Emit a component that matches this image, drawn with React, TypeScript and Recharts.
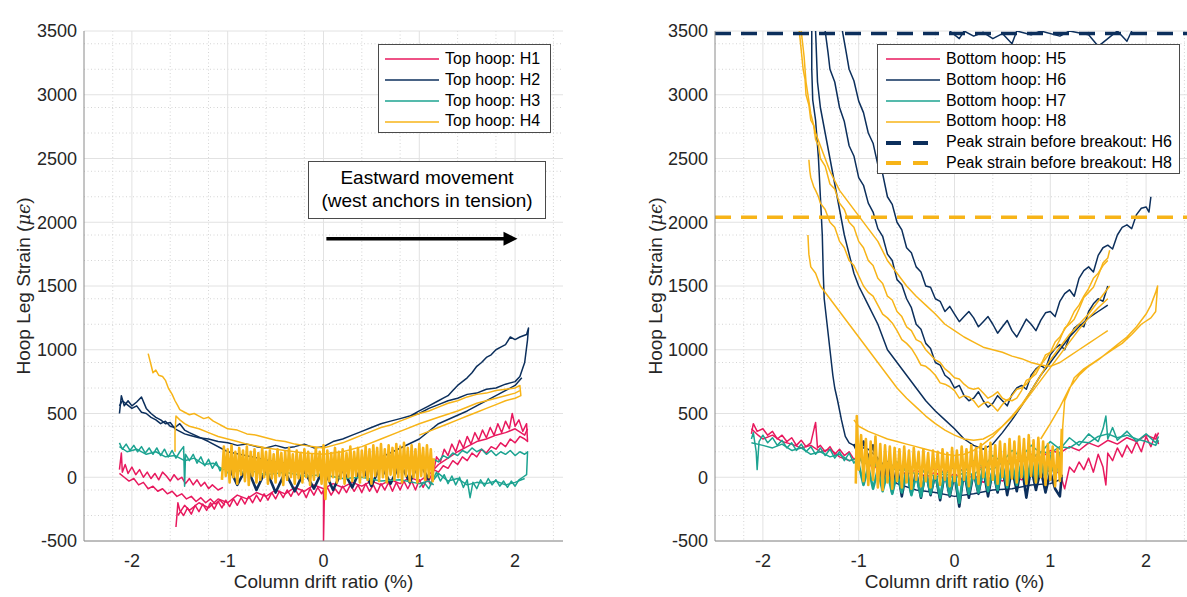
import React from 'react';
import { LineChart, Line, XAxis, YAxis, CartesianGrid, ReferenceLine } from 'recharts';

type Pt = [number, number];

const PINK = '#E8195E';
const NAVY = '#0C2F5C';
const TEAL = '#1CA391';
const YELLOW = '#F7B418';
const FONT = '"Liberation Sans", Arial, Helvetica, sans-serif';

const xTicks = [-2, -1, 0, 1, 2];
const yTicks = [-500, 0, 500, 1000, 1500, 2000, 2500, 3000, 3500];
const xMinor = [-2.4, -2.2, -1.8, -1.6, -1.4, -1.2, -0.8, -0.6, -0.4, -0.2, 0.2, 0.4, 0.6, 0.8, 1.2, 1.4, 1.6, 1.8, 2.2, 2.4];
const yMinor = yTicks.flatMap((t) => [t + 100, t + 200, t + 300, t + 400]).filter((v) => v < 3500);

const leftLabels = ['Top hoop: H1', 'Top hoop: H2', 'Top hoop: H3', 'Top hoop: H4'];
const rightLabels = ['Bottom hoop: H5', 'Bottom hoop: H6', 'Bottom hoop: H7', 'Bottom hoop: H8'];
const peakLabels = ['Peak strain before breakout: H6', 'Peak strain before breakout: H8'];
const peakH6 = 3480;
const peakH8 = 2040;

// ---------- Bottom hoop panel (left) ----------
const h1a: Pt[] = [[-2.13,60],[-2.11,190],[-2.1,40],[-2.07,100],[-2.04,30],[-2.0,80],[-1.96,20],[-1.92,60],[-1.88,0],[-1.84,40],[-1.8,-10],[-1.76,30],[-1.72,-20],[-1.68,40],[-1.64,10],[-1.6,-30],[-1.56,20],[-1.52,-20],[-1.48,0],[-1.44,-50],[-1.4,-10],[-1.36,-60],[-1.32,-20],[-1.28,-70],[-1.24,-40],[-1.2,-90],[-1.16,-60],[-1.1,-100],[-1.05,-80]];
const h1b: Pt[] = [[-2.13,30],[-2.08,0],[-2.03,-30],[-1.98,-10],[-1.93,-60],[-1.88,-40],[-1.83,-90],[-1.78,-70],[-1.73,-110],[-1.68,-90],[-1.63,-130],[-1.58,-110],[-1.53,-150],[-1.48,-130],[-1.43,-170],[-1.38,-150],[-1.33,-190],[-1.28,-160],[-1.23,-200],[-1.18,-170],[-1.13,-210],[-1.08,-180],[-1.03,-220]];
const h1c: Pt[] = [[-1.54,-390],[-1.53,-300],[-1.52,-200],[-1.5,-260],[-1.46,-300],[-1.42,-240],[-1.38,-290],[-1.34,-220],[-1.3,-270],[-1.26,-210],[-1.22,-260],[-1.18,-200],[-1.14,-250],[-1.1,-190],[-1.06,-240],[-1.02,-180],[-0.98,-230],[-0.94,-170],[-0.9,-220],[-0.86,-160],[-0.82,-210],[-0.78,-150],[-0.74,-200],[-0.7,-140],[-0.66,-190],[-0.62,-130],[-0.58,-180],[-0.54,-120],[-0.5,-170],[-0.46,-110],[-0.42,-160],[-0.38,-100],[-0.34,-150],[-0.3,-90],[-0.26,-140],[-0.22,-100],[-0.18,-160],[-0.14,-90],[-0.1,-140],[-0.06,-80],[-0.02,-130],[0,-100],[0,-500],[0.01,-120],[0.04,-80],[0.08,-140],[0.12,-90],[0.16,-130],[0.2,-70],[0.24,-120],[0.28,-60],[0.32,-110],[0.36,-60],[0.4,-120],[0.44,-50],[0.48,-110],[0.52,-60],[0.56,-120],[0.6,-50],[0.64,-100],[0.68,-40],[0.72,-110],[0.76,-40],[0.8,-100],[0.84,-30],[0.88,-90],[0.92,-30],[0.96,-100],[1.0,-20],[1.04,-80],[1.08,-10],[1.12,-60],[1.15,50],[1.18,160],[1.22,120],[1.26,220],[1.3,170],[1.34,260],[1.38,200],[1.42,290],[1.46,230],[1.5,320],[1.54,260],[1.58,350],[1.62,290],[1.66,370],[1.7,310],[1.74,390],[1.78,330],[1.82,420],[1.86,350],[1.9,440],[1.94,380],[1.97,500],[2.0,400],[2.04,450],[2.08,360],[2.12,420],[2.13,280],[2.1,300],[2.05,320],[2.0,270],[1.95,300],[1.9,240],[1.85,270],[1.8,220],[1.75,240],[1.7,190],[1.65,220],[1.6,160],[1.55,190],[1.5,130],[1.45,160],[1.4,100],[1.35,130],[1.3,70],[1.25,90],[1.2,40],[1.15,60],[1.1,-30]];
const h1d: Pt[] = [[-1.52,-300],[-1.45,-220],[-1.4,-260],[-1.3,-200],[-1.2,-240],[-1.1,-170],[-1.0,-200],[-0.9,-140],[-0.8,-170],[-0.7,-120],[-0.6,-150],[-0.5,-100],[-0.4,-130],[-0.3,-80],[-0.2,-110],[-0.1,-60],[0,-90],[0.1,-50],[0.2,-80],[0.3,-40],[0.4,-70],[0.5,-30],[0.6,-60],[0.7,-20],[0.8,-50],[0.9,0],[1.0,-30],[1.1,20],[1.2,100],[1.3,150],[1.4,200],[1.5,240],[1.6,280],[1.7,300],[1.8,330],[1.9,350],[2.0,380],[2.1,330],[2.13,380]];

const h2a: Pt[] = [[-2.13,500],[-2.11,640],[-2.08,560],[-2.04,600],[-2.0,560],[-1.95,590],[-1.9,630],[-1.85,540],[-1.8,500],[-1.75,470],[-1.7,450],[-1.65,420],[-1.6,430],[-1.55,380],[-1.5,360],[-1.45,340],[-1.4,330],[-1.3,310],[-1.2,300],[-1.1,280],[-1.0,270],[-0.9,250],[-0.8,260],[-0.7,240],[-0.6,230],[-0.5,250],[-0.4,230],[-0.3,240],[-0.2,260],[-0.1,230],[0,240],[0.1,280],[0.2,300],[0.3,330],[0.4,360],[0.5,390],[0.6,420],[0.7,440],[0.8,460],[0.9,480],[1.0,500],[1.1,540],[1.2,570],[1.3,600],[1.4,620],[1.5,650],[1.6,660],[1.7,690],[1.8,700],[1.9,730],[2.0,750],[2.05,790],[2.1,900],[2.13,1080],[2.14,1170],[2.12,1120],[2.05,1100],[2.0,1080],[1.95,1100],[1.9,1040],[1.85,1020],[1.8,1000],[1.75,960],[1.7,940],[1.65,900],[1.6,870],[1.55,820],[1.5,780],[1.45,750],[1.4,720],[1.35,680],[1.3,640],[1.25,620],[1.2,600],[1.1,560],[1.0,520],[0.9,480]];
const h2b: Pt[] = [[-2.13,560],[-2.1,600],[-2.05,570],[-2.0,540],[-1.95,560],[-1.9,510],[-1.85,500],[-1.8,470],[-1.75,450],[-1.7,420],[-1.65,440],[-1.6,400],[-1.55,390],[-1.5,420],[-1.45,370],[-1.4,350],[-1.2,280],[-1.0,200],[-0.5,120],[0,80],[0.5,120],[1.0,300],[1.2,420],[1.5,520],[1.8,640],[2.0,720],[2.07,780]];
const h2c: Pt[] = [[-1.0,100],[-0.9,-60],[-0.8,80],[-0.7,-100],[-0.6,60],[-0.5,-120],[-0.4,40],[-0.3,-110],[-0.2,50],[-0.1,-90],[0,70],[0.1,-100],[0.2,60],[0.3,-80],[0.4,90],[0.5,-70],[0.6,100],[0.7,-50],[0.8,110],[0.9,-40],[1.0,120],[1.1,-20]];

const h3a: Pt[] = [[-2.13,270],[-2.1,220],[-2.06,260],[-2.02,210],[-1.98,250],[-1.94,200],[-1.9,240],[-1.86,190],[-1.82,230],[-1.78,180],[-1.74,230],[-1.7,170],[-1.66,220],[-1.62,160],[-1.58,210],[-1.54,150],[-1.5,200],[-1.46,240],[-1.45,-70],[-1.44,180],[-1.4,130],[-1.36,180],[-1.32,110],[-1.28,160],[-1.24,90],[-1.2,140],[-1.16,70],[-1.12,120],[-1.08,50],[-1.04,90],[-1.0,30]];
const h3b: Pt[] = [[-2.13,240],[-2.05,200],[-1.95,220],[-1.85,180],[-1.75,200],[-1.65,160],[-1.55,170],[-1.45,130],[-1.35,150],[-1.25,100],[-1.15,110],[-1.05,60],[-0.95,80],[-0.85,40],[-0.75,50],[-0.6,20],[-0.4,40],[-0.2,10],[0,20],[0.2,-10],[0.4,0],[0.6,-30],[0.8,-20],[1.0,-50],[1.1,-30],[1.15,-60]];
const h3c: Pt[] = [[1.0,-80],[1.05,-40],[1.1,-90],[1.14,-20],[1.18,40],[1.22,-30],[1.26,20],[1.3,-50],[1.34,10],[1.38,-60],[1.42,0],[1.46,-80],[1.5,-20],[1.53,-160],[1.56,-40],[1.6,-90],[1.64,-20],[1.68,-70],[1.72,-10],[1.76,-60],[1.8,-20],[1.84,-70],[1.88,-30],[1.92,-80],[1.96,-30],[2.0,-70],[2.04,-20],[2.08,0],[2.12,20],[2.13,200],[2.1,180],[2.05,200],[2.0,170],[1.95,210],[1.9,180],[1.85,200],[1.8,170],[1.75,210],[1.7,180],[1.65,220],[1.6,200],[1.55,230],[1.5,190],[1.45,210],[1.4,170],[1.35,190],[1.3,150],[1.25,170],[1.2,120],[1.15,140]];
const h3d: Pt[] = [[1.15,-20],[1.2,30],[1.3,-30],[1.4,-10],[1.5,-60],[1.6,-40],[1.7,-50],[1.8,-30],[1.9,-60],[2.0,-40],[2.1,-10]];

const h4a: Pt[] = [[-1.83,970],[-1.8,880],[-1.78,820],[-1.75,840],[-1.72,800],[-1.68,790],[-1.65,760],[-1.62,700],[-1.58,650],[-1.55,600],[-1.52,560],[-1.5,530],[-1.45,510],[-1.4,490],[-1.35,500],[-1.3,480],[-1.25,460],[-1.2,470],[-1.15,440],[-1.1,420],[-1.05,400],[-1.0,380],[-0.9,370],[-0.8,340],[-0.7,330],[-0.6,310],[-0.5,290],[-0.4,280],[-0.3,260],[-0.2,250],[-0.1,240],[0,230],[0.1,250],[0.2,270],[0.3,300],[0.4,330],[0.5,360],[0.6,390],[0.7,410],[0.8,440],[0.9,470],[1.0,500],[1.1,520],[1.2,550],[1.3,580],[1.4,600],[1.5,630],[1.6,650],[1.7,660],[1.8,680],[1.9,690],[2.0,700],[2.05,720],[2.06,640],[2.0,620],[1.9,600],[1.8,570],[1.7,540],[1.6,510],[1.5,480],[1.4,450],[1.3,420],[1.2,390],[1.1,360],[1.0,330]];
const h4b: Pt[] = [[-1.55,200],[-1.55,350],[-1.54,480],[-1.5,450],[-1.45,420],[-1.4,400],[-1.3,380],[-1.2,350],[-1.1,320],[-1.0,300],[-0.9,280],[-0.8,260],[-0.6,230],[-0.4,210],[-0.2,190],[0,180],[0.2,200],[0.4,240],[0.6,300],[0.8,360],[1.0,420],[1.2,470],[1.4,520],[1.6,580],[1.8,620],[2.0,660],[2.05,680]];
const h4band: Pt[] = [[-1.06,-20],[-1.04,240],[-1.02,10],[-1.0,220],[-0.98,-40],[-0.96,250],[-0.94,0],[-0.92,200],[-0.9,-50],[-0.88,230],[-0.86,20],[-0.84,210],[-0.82,-30],[-0.8,240],[-0.78,-60],[-0.76,200],[-0.74,10],[-0.72,220],[-0.7,-40],[-0.68,190],[-0.66,-20],[-0.64,230],[-0.62,0],[-0.6,200],[-0.58,-50],[-0.56,210],[-0.54,-10],[-0.52,180],[-0.5,-40],[-0.48,220],[-0.46,10],[-0.44,190],[-0.42,-60],[-0.4,200],[-0.38,-20],[-0.36,230],[-0.34,0],[-0.32,180],[-0.3,-50],[-0.28,210],[-0.26,-10],[-0.24,190],[-0.22,-40],[-0.2,220],[-0.18,0],[-0.16,200],[-0.14,-60],[-0.12,180],[-0.1,-20],[-0.08,230],[-0.06,10],[-0.04,200],[-0.02,-50],[0,250],[0.02,-170],[0.04,210],[0.06,-30],[0.08,190],[0.1,0],[0.12,230],[0.14,-40],[0.16,200],[0.18,-10],[0.2,220],[0.22,-50],[0.24,190],[0.26,0],[0.28,240],[0.3,-30],[0.32,200],[0.34,10],[0.36,230],[0.38,-40],[0.4,210],[0.42,0],[0.44,240],[0.46,-20],[0.48,220],[0.5,-50],[0.52,250],[0.54,10],[0.56,230],[0.58,-30],[0.6,260],[0.62,0],[0.64,220],[0.66,-40],[0.68,250],[0.7,20],[0.72,230],[0.74,-20],[0.76,260],[0.78,0],[0.8,240],[0.82,-40],[0.84,270],[0.86,10],[0.88,230],[0.9,-30],[0.92,250],[0.94,0],[0.96,220],[0.98,-40],[1.0,260],[1.02,10],[1.04,230],[1.06,-20],[1.08,250],[1.1,0],[1.12,220],[1.14,-30],[1.15,150]];

const arrowPts: Pt[] = [[0.03,1870],[1.9,1870]];

// ---------- Top hoop panel (right) ----------
const h5a: Pt[] = [[-2.12,340],[-2.1,420],[-2.06,360],[-2.0,380],[-1.95,330],[-1.9,360],[-1.85,300],[-1.8,330],[-1.75,280],[-1.7,310],[-1.65,250],[-1.6,290],[-1.55,240],[-1.5,270],[-1.45,430],[-1.43,230],[-1.4,250],[-1.35,200],[-1.3,240],[-1.25,180],[-1.2,220],[-1.15,170],[-1.1,200],[-1.05,140],[-1.0,170],[-0.95,100],[-0.9,130],[-0.85,60],[-0.8,100],[-0.7,40],[-0.6,70],[-0.5,20],[-0.4,60],[-0.3,0],[-0.2,40],[-0.1,-20],[0,30],[0.1,-30],[0.2,20],[0.3,-40],[0.4,10],[0.5,-30],[0.6,20],[0.7,-20],[0.8,40],[0.9,0],[1.0,60],[1.1,30],[1.15,-90],[1.2,80],[1.25,40],[1.3,120],[1.35,60],[1.4,150],[1.45,40],[1.5,180],[1.55,80],[1.58,-60],[1.6,190],[1.65,130],[1.7,230],[1.75,160],[1.8,250],[1.85,190],[1.9,280],[1.95,200],[2.0,320],[2.05,240],[2.1,340],[2.13,260]];
const h5b: Pt[] = [[-2.12,380],[-2.05,330],[-2.0,300],[-1.9,330],[-1.8,280],[-1.7,260],[-1.6,230],[-1.5,250],[-1.4,200],[-1.3,220],[-1.2,160],[-1.1,130],[-1.0,150],[-0.9,100],[-0.8,120],[-0.7,70],[-0.6,100],[-0.5,60],[-0.4,90],[-0.3,40],[-0.2,70],[-0.1,40],[0,80],[0.1,50],[0.2,100],[0.3,70],[0.4,130],[0.5,100],[0.6,150],[0.7,120],[0.8,180],[0.9,150],[1.0,210],[1.1,190],[1.2,240],[1.3,210],[1.4,270],[1.5,240],[1.6,290],[1.7,260],[1.8,310],[1.9,280],[2.0,330],[2.1,300],[2.13,350]];

const h6a: Pt[] = [[-1.49,3500],[-1.49,3200],[-1.48,2960],[-1.45,2800],[-1.42,2500],[-1.4,2200],[-1.38,1900],[-1.37,1600],[-1.36,1400],[-1.33,1200],[-1.3,1000],[-1.27,800],[-1.25,700],[-1.22,600],[-1.18,450],[-1.14,320],[-1.1,270],[-1.05,250],[-1.0,240],[-0.9,220],[-0.8,150],[-0.7,60],[-0.6,-50],[-0.4,-100],[-0.2,-120],[0,-150],[0.2,-130],[0.4,-100],[0.6,-90],[0.8,-60],[1.0,-50],[1.1,-20]];
const h6b: Pt[] = [[-1.45,3500],[-1.43,3100],[-1.4,2900],[-1.35,2700],[-1.3,2500],[-1.25,2300],[-1.2,2100],[-1.15,1900],[-1.1,1750],[-1.05,1600],[-1.0,1500],[-0.9,1350],[-0.8,1200],[-0.7,1000],[-0.6,900],[-0.5,800],[-0.4,700],[-0.3,600],[-0.2,520],[-0.1,450],[0,380],[0.1,300],[0.2,250],[0.3,220],[0.4,260],[0.5,350],[0.6,450],[0.7,560],[0.8,680],[0.9,800],[1.0,900],[1.1,1000],[1.2,1100],[1.3,1180],[1.4,1250],[1.5,1300],[1.6,1350]];
const h6c: Pt[] = [[-1.35,3500],[-1.32,3330],[-1.3,3200],[-1.25,3100],[-1.2,2900],[-1.15,2790],[-1.1,2600],[-1.05,2520],[-1.0,2350],[-0.95,2290],[-0.9,2150],[-0.85,2080],[-0.8,1950],[-0.75,1890],[-0.7,1750],[-0.65,1700],[-0.6,1550],[-0.55,1510],[-0.5,1400],[-0.45,1330],[-0.4,1200],[-0.35,1160],[-0.3,1050],[-0.25,1010],[-0.2,900],[-0.15,880],[-0.1,800],[-0.05,770],[0,700],[0.05,720],[0.1,640],[0.15,600],[0.2,620],[0.25,670],[0.3,600],[0.35,550],[0.4,580],[0.45,640],[0.5,600],[0.55,560],[0.6,650],[0.65,700],[0.7,720],[0.75,690],[0.8,800],[0.85,850],[0.9,880],[0.95,850],[1.0,960],[1.05,1010],[1.1,1040],[1.15,1000],[1.2,1100],[1.25,1170],[1.3,1200],[1.35,1180],[1.4,1300],[1.45,1360],[1.5,1400],[1.55,1380],[1.6,1500]];
const h6d: Pt[] = [[-1.17,3500],[-1.13,3330],[-1.1,3200],[-1.05,3110],[-1.0,2950],[-0.95,2860],[-0.9,2700],[-0.85,2620],[-0.8,2450],[-0.75,2380],[-0.7,2200],[-0.65,2140],[-0.6,2000],[-0.55,1940],[-0.5,1800],[-0.45,1760],[-0.4,1650],[-0.35,1610],[-0.3,1500],[-0.25,1490],[-0.2,1400],[-0.15,1380],[-0.1,1300],[-0.05,1340],[0,1280],[0.05,1220],[0.1,1260],[0.15,1300],[0.2,1250],[0.25,1180],[0.3,1220],[0.35,1260],[0.4,1200],[0.45,1130],[0.5,1180],[0.55,1230],[0.6,1150],[0.65,1100],[0.7,1170],[0.75,1240],[0.8,1200],[0.85,1150],[0.9,1230],[0.95,1290],[1.0,1300],[1.05,1260],[1.1,1380],[1.15,1440],[1.2,1470],[1.25,1420],[1.3,1560],[1.35,1620],[1.4,1650],[1.45,1610],[1.5,1740],[1.55,1800],[1.6,1820],[1.65,1790],[1.7,1900],[1.75,1960],[1.8,1980],[1.85,1950],[1.9,2060],[1.95,2110],[2.0,2120],[2.03,2080],[2.05,2200]];
const h6e: Pt[] = [[-0.05,3500],[0.05,3440],[0.1,3500],[0.2,3460],[0.3,3490],[0.4,3440],[0.5,3480],[0.6,3400],[0.65,3500],[0.8,3470],[0.9,3500],[1.1,3460],[1.2,3500],[1.4,3470],[1.5,3380],[1.6,3440],[1.7,3500],[1.8,3420],[1.85,3500]];
const h6band: Pt[] = [[-1.05,260],[-1.0,180],[-0.95,280],[-0.9,150],[-0.85,250],[-0.8,100],[-0.75,-50],[-0.7,120],[-0.65,-120],[-0.6,80],[-0.55,-150],[-0.5,60],[-0.45,-130],[-0.4,40],[-0.35,-160],[-0.3,50],[-0.25,-140],[-0.2,30],[-0.15,-180],[-0.1,40],[-0.05,-150],[0,20],[0.05,-230],[0.1,50],[0.15,-160],[0.2,40],[0.25,-130],[0.3,70],[0.35,-150],[0.4,60],[0.45,-120],[0.5,90],[0.55,-140],[0.6,70],[0.65,-110],[0.7,100],[0.75,-160],[0.8,80],[0.85,-100],[0.9,60],[0.95,-120],[1.0,40],[1.05,-90],[1.1,-150],[1.12,20]];

const h7a: Pt[] = [[-2.12,300],[-2.1,350],[-2.07,200],[-2.06,60],[-2.04,280],[-2.0,330],[-1.95,270],[-1.9,310],[-1.85,250],[-1.8,290],[-1.75,230],[-1.7,270],[-1.65,210],[-1.6,260],[-1.55,200],[-1.5,240],[-1.45,180],[-1.4,230],[-1.35,170],[-1.3,220],[-1.25,150],[-1.2,200],[-1.15,130],[-1.1,190],[-1.05,110],[-1.0,170],[-0.95,90],[-0.9,150],[-0.85,70],[-0.8,130],[-0.7,60],[-0.6,120],[-0.5,40],[-0.4,110],[-0.3,30],[-0.2,100],[-0.1,20],[0,90],[0.1,40],[0.2,130],[0.3,80],[0.4,170],[0.5,120],[0.6,210],[0.7,160],[0.8,250],[0.9,190],[1.0,280],[1.1,220],[1.2,310],[1.3,250],[1.4,340],[1.5,280],[1.55,380],[1.58,480],[1.6,300],[1.65,390],[1.7,290],[1.8,360],[1.9,280],[2.0,340],[2.1,270],[2.13,320]];
const h7b: Pt[] = [[-2.12,270],[-2.0,250],[-1.9,230],[-1.8,260],[-1.7,210],[-1.6,230],[-1.5,180],[-1.4,200],[-1.3,160],[-1.2,180],[-1.1,130],[-1.0,150],[-0.9,110],[-0.8,80],[-0.7,100],[-0.6,50],[-0.5,70],[-0.4,20],[-0.3,50],[-0.2,0],[-0.1,30],[0,-10],[0.1,40],[0.2,20],[0.3,80],[0.4,60],[0.5,120],[0.6,100],[0.7,160],[0.8,150],[0.9,200],[1.0,190],[1.1,240],[1.2,230],[1.3,280],[1.4,270],[1.5,320],[1.6,340],[1.7,310],[1.8,330],[1.9,300],[2.0,280],[2.1,250],[2.13,290]];
const h7band: Pt[] = [[-1.0,100],[-0.95,-60],[-0.9,80],[-0.85,-90],[-0.8,60],[-0.75,-110],[-0.7,40],[-0.65,-130],[-0.6,30],[-0.55,-120],[-0.5,50],[-0.45,-140],[-0.4,20],[-0.35,-150],[-0.3,40],[-0.25,-130],[-0.2,30],[-0.15,-160],[-0.1,50],[-0.05,-140],[0,40],[0.05,-200],[0.1,60],[0.15,-130],[0.2,50],[0.25,-120],[0.3,80],[0.35,-110],[0.4,60],[0.45,-100],[0.5,90],[0.55,-80],[0.6,110],[0.65,-60],[0.7,120],[0.75,-50],[0.8,140],[0.85,-40],[0.9,150],[0.95,-20],[1.0,170],[1.05,0],[1.1,200]];

const h8a: Pt[] = [[-1.6,3500],[-1.57,3300],[-1.55,3100],[-1.52,2950],[-1.5,2850],[-1.45,2700],[-1.4,2600],[-1.35,2500],[-1.3,2400],[-1.2,2250],[-1.1,2150],[-1.0,2050],[-0.9,1950],[-0.8,1850],[-0.7,1700],[-0.6,1600],[-0.5,1500],[-0.4,1420],[-0.3,1350],[-0.2,1280],[-0.1,1200],[0,1150],[0.1,1100],[0.2,1060],[0.3,1020],[0.4,1000],[0.5,980],[0.6,950],[0.7,930],[0.8,900],[0.9,880],[1.0,870],[1.1,900],[1.2,950],[1.3,1000],[1.4,1050],[1.5,1100],[1.6,1150]];
const h8b: Pt[] = [[-1.52,2490],[-1.51,2400],[-1.5,2350],[-1.47,2280],[-1.45,2250],[-1.42,2200],[-1.4,2150],[-1.35,2100],[-1.3,2000],[-1.25,1960],[-1.2,1850],[-1.15,1800],[-1.1,1700],[-1.05,1660],[-1.0,1580],[-0.95,1500],[-0.9,1450],[-0.85,1420],[-0.8,1350],[-0.75,1280],[-0.7,1250],[-0.65,1210],[-0.6,1150],[-0.55,1080],[-0.5,1050],[-0.45,1010],[-0.4,950],[-0.35,880],[-0.3,870],[-0.25,840],[-0.2,800],[-0.15,740],[-0.1,730],[-0.05,710],[0,680],[0.05,620],[0.1,640],[0.15,630],[0.2,600],[0.25,550],[0.3,580],[0.35,590],[0.4,560],[0.45,520],[0.5,570],[0.55,610],[0.6,600],[0.65,620],[0.7,680],[0.75,760],[0.8,780],[0.85,810],[0.9,880],[0.95,960],[1.0,980],[1.05,1010],[1.1,1080],[1.15,1170],[1.2,1200],[1.25,1240],[1.3,1320],[1.35,1410],[1.4,1450],[1.45,1490],[1.5,1580],[1.55,1680],[1.6,1720],[1.62,1780]];
const h8c: Pt[] = [[-1.53,1900],[-1.52,1750],[-1.5,1650],[-1.45,1600],[-1.4,1500],[-1.3,1400],[-1.2,1300],[-1.1,1200],[-1.0,1100],[-0.9,1000],[-0.8,900],[-0.7,800],[-0.6,700],[-0.5,620],[-0.4,550],[-0.3,480],[-0.2,420],[-0.1,370],[0,330],[0.1,300],[0.2,290],[0.3,300],[0.4,340],[0.5,400],[0.6,470],[0.7,560],[0.8,660],[0.9,760],[1.0,860],[1.1,960],[1.2,1060],[1.3,1160],[1.4,1250],[1.5,1330],[1.6,1400]];
const h8d: Pt[] = [[-1.62,3500],[-1.6,3350],[-1.58,3200],[-1.56,3120],[-1.55,3000],[-1.52,2920],[-1.5,2800],[-1.47,2760],[-1.45,2650],[-1.42,2600],[-1.4,2500],[-1.35,2440],[-1.3,2300],[-1.25,2260],[-1.2,2150],[-1.15,2100],[-1.1,2000],[-1.05,1960],[-1.0,1850],[-0.95,1800],[-0.9,1700],[-0.85,1660],[-0.8,1560],[-0.75,1520],[-0.7,1420],[-0.65,1390],[-0.6,1300],[-0.55,1260],[-0.5,1180],[-0.45,1150],[-0.4,1080],[-0.35,1060],[-0.3,1000],[-0.25,960],[-0.2,920],[-0.15,900],[-0.1,850],[-0.05,820],[0,780],[0.05,770],[0.1,730],[0.15,700],[0.2,690],[0.25,700],[0.3,660],[0.35,620],[0.4,640],[0.45,670],[0.5,620],[0.55,600],[0.6,640],[0.65,690],[0.7,700],[0.75,730],[0.8,780],[0.85,840],[0.9,880],[0.95,930],[1.0,980],[1.05,1060],[1.1,1100],[1.15,1160],[1.2,1220],[1.25,1300],[1.3,1350],[1.35,1420],[1.4,1480],[1.45,1560],[1.5,1600],[1.55,1660],[1.6,1700]];
const h8e: Pt[] = [[-1.05,450],[-1.0,400],[-0.9,360],[-0.8,330],[-0.7,300],[-0.6,280],[-0.5,260],[-0.4,240],[-0.3,220],[-0.2,200],[-0.1,180],[0,170],[0.1,180],[0.2,210],[0.3,260],[0.4,320],[0.5,400],[0.6,480],[0.7,570],[0.8,680],[0.9,800],[1.0,920],[1.1,1020],[1.2,1120],[1.3,1200],[1.4,1280],[1.5,1380],[1.6,1480],[1.62,1500]];
const h8f: Pt[] = [[0.9,300],[1.0,420],[1.1,550],[1.2,700],[1.3,800],[1.4,870],[1.5,920],[1.6,980],[1.7,1040],[1.8,1100],[1.9,1180],[2.0,1280],[2.05,1350],[2.1,1450],[2.12,1500],[2.1,1300],[2.05,1250],[1.95,1200],[1.85,1120],[1.75,1050],[1.65,1000],[1.55,950],[1.45,900],[1.35,850],[1.25,780],[1.15,600],[1.13,400],[1.12,0]];
const h8band: Pt[] = [[-1.03,-50],[-1.02,480],[-1.0,60],[-0.975,330],[-0.95,-30],[-0.925,300],[-0.9,-60],[-0.875,280],[-0.85,-20],[-0.825,320],[-0.8,-80],[-0.775,260],[-0.75,-100],[-0.725,250],[-0.7,-40],[-0.675,240],[-0.65,-90],[-0.625,230],[-0.6,-30],[-0.575,220],[-0.55,-80],[-0.525,240],[-0.5,-40],[-0.475,210],[-0.45,-90],[-0.425,230],[-0.4,-20],[-0.375,200],[-0.35,-70],[-0.325,220],[-0.3,-30],[-0.275,190],[-0.25,-80],[-0.225,210],[-0.2,-10],[-0.175,200],[-0.15,-60],[-0.125,220],[-0.1,-20],[-0.075,190],[-0.05,-70],[-0.025,230],[0,-30],[0.025,210],[0.05,-60],[0.075,240],[0.1,-20],[0.125,220],[0.15,-70],[0.175,250],[0.2,-10],[0.225,230],[0.25,-50],[0.275,260],[0.3,0],[0.325,240],[0.35,-60],[0.375,270],[0.4,-20],[0.425,250],[0.45,-50],[0.475,280],[0.5,0],[0.525,260],[0.55,-60],[0.575,300],[0.6,-10],[0.625,280],[0.65,-40],[0.675,320],[0.7,0],[0.725,300],[0.75,-50],[0.775,330],[0.8,10],[0.825,290],[0.85,-40],[0.875,310],[0.9,0],[0.925,280],[0.95,-60],[0.975,260],[1.0,-20],[1.025,240],[1.05,-70],[1.075,220],[1.1,-30],[1.12,380]];

const toRows = (a: Pt[]) => a.map(([x, y]) => ({ x, y }));

// segs: ordinary traces, bands: dense back-and-forth traces drawn heavier
const leftGroups = [
  { color: PINK, segs: [h1a, h1b, h1c, h1d], bands: [] as Pt[][] },
  { color: NAVY, segs: [h2a, h2b], bands: [h2c] },
  { color: TEAL, segs: [h3a, h3b, h3c, h3d], bands: [] as Pt[][] },
  { color: YELLOW, segs: [h4a, h4b], bands: [h4band] },
];
const rightGroups = [
  { color: PINK, segs: [h5a, h5b], bands: [] as Pt[][] },
  { color: NAVY, segs: [h6a, h6b, h6c, h6d, h6e], bands: [h6band] },
  { color: TEAL, segs: [h7a, h7b], bands: [h7band] },
  { color: YELLOW, segs: [h8a, h8b, h8c, h8d, h8e, h8f], bands: [h8band] },
];

const tickStyle = { fill: '#262626', fontSize: 18, fontFamily: FONT };

const Title = ({ viewBox, text }: any) => (
  <text x={viewBox.x + viewBox.width / 2} y={viewBox.y - 6} textAnchor="middle"
    style={{ fontFamily: FONT, fontSize: 19, fontWeight: 'bold', fill: '#000' }}>{text}</text>
);
const XTitle = ({ viewBox }: any) => (
  <text x={viewBox.x + viewBox.width / 2} y={viewBox.y + viewBox.height - 9} textAnchor="middle"
    style={{ fontFamily: FONT, fontSize: 19, fill: '#262626' }}>Column drift ratio (%)</text>
);
const YTitle = ({ viewBox, dx }: any) => (
  <text transform={`translate(${viewBox.x + dx},${viewBox.y + viewBox.height / 2}) rotate(-90)`} textAnchor="middle"
    style={{ fontFamily: FONT, fontSize: 19, fill: '#262626' }}>
    Hoop Leg Strain (<tspan style={{ fontFamily: '"DejaVu Serif", serif', fontStyle: 'italic', fontSize: 18 }}>μϵ</tspan>)
  </text>
);

const ArrowHead = (props: any) => {
  const { cx, cy, index } = props;
  if (index !== 1) return <g />;
  return <polygon points={`${cx - 2},${cy - 7} ${cx + 12},${cy} ${cx - 2},${cy + 7}`} fill="#000" />;
};

function Panel({ title, groups, marginLeft, marginRight, labelDx, children }: any) {
  return (
    <LineChart width={600} height={597} margin={{ top: 31, right: marginRight, bottom: 0, left: marginLeft }}>
      <CartesianGrid stroke="#d4d4d4" strokeDasharray="1 2.5" verticalValues={xMinor} horizontalValues={yMinor} />
      <CartesianGrid stroke="#e2e2e2" verticalValues={xTicks} horizontalValues={yTicks} />
      <XAxis type="number" dataKey="x" domain={[-2.5, 2.5]} ticks={xTicks} allowDataOverflow
        tick={tickStyle} tickLine={false} tickSize={6} tickMargin={7} height={56}
        axisLine={{ stroke: '#8a8a8a' }} label={<XTitle />} />
      <XAxis xAxisId="top" orientation="top" type="number" dataKey="x" domain={[-2.5, 2.5]} ticks={xTicks}
        allowDataOverflow height={0} mirror tick={false} tickSize={5} tickLine={{ stroke: '#8a8a8a' }}
        axisLine={{ stroke: '#8a8a8a' }} label={<Title text={title} />} />
      <YAxis type="number" domain={[-500, 3500]} ticks={yTicks} allowDataOverflow width={60}
        tick={tickStyle} tickLine={false} tickSize={6} tickMargin={1}
        axisLine={{ stroke: '#8a8a8a' }} label={<YTitle dx={labelDx} />} />
      <YAxis yAxisId="right" orientation="right" type="number" domain={[-500, 3500]} ticks={yTicks}
        allowDataOverflow width={0} mirror tick={false} tickSize={5} tickLine={{ stroke: '#8a8a8a' }}
        axisLine={{ stroke: '#8a8a8a' }} />
      {groups.flatMap((g: any, gi: number) => [
        ...g.segs.map((s: Pt[], si: number) => (
          <Line key={`s${gi}-${si}`} data={toRows(s)} dataKey="y" type="linear" stroke={g.color}
            strokeWidth={1.5} strokeLinejoin="round" dot={false} isAnimationActive={false} legendType="none" />
        )),
        ...g.bands.map((s: Pt[], si: number) => (
          <Line key={`b${gi}-${si}`} data={toRows(s)} dataKey="y" type="linear" stroke={g.color}
            strokeWidth={2.6} strokeLinejoin="round" dot={false} isAnimationActive={false} legendType="none" />
        )),
      ])}
      {children}
    </LineChart>
  );
}

const legendRow = (label: string, color: string, dashed: boolean) => (
  <div key={label} style={{ display: 'flex', alignItems: 'center', height: 20.8 }}>
    <svg width={56} height={8} style={{ marginRight: 5, flex: 'none' }}>
      <line x1={1} y1={4} x2={55} y2={4} stroke={color} strokeWidth={dashed ? 4 : 1.6}
        strokeDasharray={dashed ? '15 12' : undefined} />
    </svg>
    <span>{label}</span>
  </div>
);

export default function App() {
  const boxStyle: React.CSSProperties = {
    position: 'absolute', background: '#fff', border: '1px solid #4a4a4a', boxSizing: 'border-box',
    fontFamily: FONT, fontSize: 16, color: '#000', whiteSpace: 'nowrap', lineHeight: '20.8px',
  };
  return (
    <div style={{ position: 'fixed', left: 0, top: 0, width: 1187, height: 597, overflow: 'hidden', background: '#fff' }}>
      <div style={{ position: 'absolute', left: 0, top: 0 }}>
        <Panel title="Bottom Hoop" groups={leftGroups} marginLeft={24} marginRight={37} labelDx={6}>
          <Line data={toRows(arrowPts)} dataKey="y" stroke="#000" strokeWidth={3.5} dot={<ArrowHead />}
            isAnimationActive={false} legendType="none" />
        </Panel>
      </div>
      <div style={{ position: 'absolute', left: 600, top: 0 }}>
        <Panel title="Top Hoop" groups={rightGroups} marginLeft={55} marginRight={6} labelDx={7}>
          <ReferenceLine y={peakH6} stroke={NAVY} strokeWidth={3.5} strokeDasharray="16 10" />
          <ReferenceLine y={peakH8} stroke={YELLOW} strokeWidth={3.5} strokeDasharray="16 10" />
        </Panel>
      </div>

      <div style={{ ...boxStyle, left: 378, top: 44, width: 173, height: 89, padding: '4px 0 0 5px' }}>
        {leftLabels.map((l, i) => legendRow(l, [PINK, NAVY, TEAL, YELLOW][i], false))}
      </div>
      <div style={{ ...boxStyle, left: 877, top: 44, width: 303, height: 130, padding: '4px 0 0 7px' }}>
        {rightLabels.map((l, i) => legendRow(l, [PINK, NAVY, TEAL, YELLOW][i], false))}
        {peakLabels.map((l, i) => legendRow(l, [NAVY, YELLOW][i], true))}
      </div>
      <div style={{ ...boxStyle, left: 308, top: 161, width: 238, height: 58, fontSize: 19, lineHeight: '23px',
        textAlign: 'center', paddingTop: 4 }}>
        <div>Eastward movement</div>
        <div>(west anchors in tension)</div>
      </div>
    </div>
  );
}
